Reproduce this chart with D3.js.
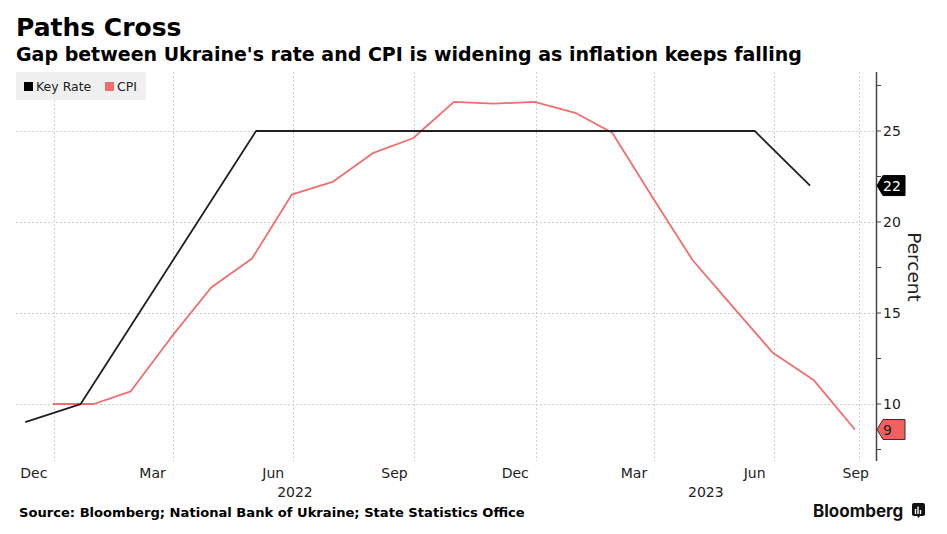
<!DOCTYPE html>
<html>
<head>
<meta charset="utf-8">
<script src="https://cdn.jsdelivr.net/npm/d3@7/dist/d3.min.js"></script>
<style>
  body { margin: 0; background: #fff; }
  svg { display: block; font-family: 'DejaVu Sans', sans-serif; }
</style>
</head>
<body>
<svg id="chart" width="947" height="534"></svg>
<script>
  // ---- Data -----------------------------------------------------------------
  // NBU key rate, at decision dates
  var rateDates  = ['2021-12-10', '2022-01-21', '2022-06-03', '2023-06-16', '2023-07-28'];
  var rateValues = [9, 10, 25, 25, 22];

  // CPI YoY, month-end
  var cpiDates = ['2021-12-31', '2022-01-31', '2022-02-28', '2022-03-31', '2022-04-30',
    '2022-05-31', '2022-06-30', '2022-07-31', '2022-08-31', '2022-09-30', '2022-10-31',
    '2022-11-30', '2022-12-31', '2023-01-31', '2023-02-28', '2023-03-31', '2023-04-30',
    '2023-05-31', '2023-06-30', '2023-07-31', '2023-08-31'];
  var cpiValues = [10.0, 10.0, 10.7, 13.7, 16.4, 18.0, 21.5, 22.2, 23.8, 24.6, 26.6,
    26.5, 26.6, 26.0, 24.9, 21.3, 17.9, 15.3, 12.8, 11.3, 8.6];

  var monthLabels = ['Dec', 'Mar', 'Jun', 'Sep', 'Dec', 'Mar', 'Jun', 'Sep'];
  var monthStarts = ['2021-12-01', '2022-03-01', '2022-06-01', '2022-09-01',
    '2022-12-01', '2023-03-01', '2023-06-01', '2023-09-01'];
  var yearLabels = ['2022', '2023'];
  var gridDates = ['2022-01-01', '2022-04-01', '2022-07-01', '2022-10-01',
    '2023-01-01', '2023-04-01', '2023-07-01', '2023-09-03'];
  var yTicks = [10, 15, 20, 25];
  var yMinorTicks = [7.5, 12.5, 17.5, 22.5, 27.5];

  var RATE_COLOR = '#1f1f1f';
  var CPI_COLOR = '#f26d6d';

  var parse = d3.timeParse('%Y-%m-%d');
  var svg = d3.select('#chart');

  var plot = { left: 16, right: 876, top: 72, bottom: 461 };

  var x = d3.scaleTime()
    .domain([parse('2021-12-03'), parse('2023-09-16')])
    .range([plot.left, plot.right]);
  var y = d3.scaleLinear()
    .domain([6.87, 28.24])
    .range([plot.bottom, plot.top]);

  // ---- Titles ---------------------------------------------------------------
  svg.append('text').attr('x', 16).attr('y', 36)
    .attr('font-size', 25).attr('font-weight', 'bold').attr('fill', '#000')
    .text('Paths Cross');
  svg.append('text').attr('x', 16).attr('y', 61)
    .attr('font-size', 19).attr('font-weight', 'bold').attr('fill', '#000')
    .text("Gap between Ukraine's rate and CPI is widening as inflation keeps falling");

  // ---- Grid -----------------------------------------------------------------
  var grid = svg.append('g').attr('stroke', '#cfcfcf').attr('stroke-dasharray', '2,2')
    .attr('stroke-width', 1);
  grid.selectAll('line.h').data(yTicks).enter().append('line')
    .attr('x1', plot.left).attr('x2', plot.right)
    .attr('y1', function(d) { return Math.round(y(d)) + 0.5; })
    .attr('y2', function(d) { return Math.round(y(d)) + 0.5; });
  grid.selectAll('line.v').data(gridDates).enter().append('line')
    .attr('y1', plot.top).attr('y2', plot.bottom)
    .attr('x1', function(d) { return Math.round(x(parse(d))) + 0.5; })
    .attr('x2', function(d) { return Math.round(x(parse(d))) + 0.5; });

  // ---- Legend ---------------------------------------------------------------
  var legend = svg.append('g');
  legend.append('rect').attr('x', 16).attr('y', 72).attr('width', 130).attr('height', 28)
    .attr('fill', '#f0f0f0');
  legend.append('rect').attr('x', 24).attr('y', 82).attr('width', 9).attr('height', 9)
    .attr('fill', '#000');
  legend.append('text').attr('x', 36).attr('y', 91).attr('font-size', 12.5)
    .attr('fill', '#222').text('Key Rate');
  legend.append('rect').attr('x', 105).attr('y', 82).attr('width', 9).attr('height', 9)
    .attr('fill', CPI_COLOR);
  legend.append('text').attr('x', 117).attr('y', 91).attr('font-size', 12.5)
    .attr('fill', '#222').text('CPI');

  // ---- Lines ----------------------------------------------------------------
  var line = d3.line()
    .x(function(d) { return x(d.date); })
    .y(function(d) { return y(d.value); });

  var rateData = rateDates.map(function(d, i) { return { date: parse(d), value: rateValues[i] }; });
  var cpiData = cpiDates.map(function(d, i) { return { date: parse(d), value: cpiValues[i] }; });

  svg.append('path').datum(cpiData).attr('d', line)
    .attr('fill', 'none').attr('stroke', CPI_COLOR).attr('stroke-width', 1.8)
    .attr('stroke-linejoin', 'round');
  svg.append('path').datum(rateData).attr('d', line)
    .attr('fill', 'none').attr('stroke', RATE_COLOR).attr('stroke-width', 1.8)
    .attr('stroke-linejoin', 'round');

  // ---- Right axis -----------------------------------------------------------
  var axis = svg.append('g');
  axis.append('line').attr('x1', plot.right + 0.5).attr('x2', plot.right + 0.5)
    .attr('y1', plot.top).attr('y2', plot.bottom)
    .attr('stroke', '#444').attr('stroke-width', 1.5);
  axis.selectAll('line.tick').data(yTicks.concat(yMinorTicks)).enter().append('line')
    .attr('x1', plot.right).attr('x2', plot.right + 5)
    .attr('y1', function(d) { return y(d); }).attr('y2', function(d) { return y(d); })
    .attr('stroke', '#444').attr('stroke-width', 1);
  axis.selectAll('text.tick').data(yTicks).enter().append('text')
    .attr('x', plot.right + 7).attr('y', function(d) { return y(d) + 5; })
    .attr('font-size', 14).attr('fill', '#222')
    .text(function(d) { return d; });
  svg.append('text')
    .attr('transform', 'translate(' + 908 + ',' + 267 + ') rotate(90)')
    .attr('text-anchor', 'middle').attr('font-size', 18.5).attr('fill', '#222')
    .text('Percent');

  // ---- Value tags -----------------------------------------------------------
  function tag(value, fill, textFill, stroke) {
    var cy = y(value), x0 = plot.right + 1, h = 20, w = 28, p = 6;
    svg.append('path')
      .attr('d', 'M' + x0 + ',' + cy + 'L' + (x0 + p) + ',' + (cy - h / 2) +
        'H' + (x0 + w) + 'V' + (cy + h / 2) + 'H' + (x0 + p) + 'Z')
      .attr('fill', fill).attr('stroke', stroke).attr('stroke-width', 1);
    svg.append('text').attr('x', x0 + 6).attr('y', cy + 5)
      .attr('font-size', 14).attr('fill', textFill)
      .text(value < 10 ? Math.round(value) : value);
  }
  tag(rateValues[rateValues.length - 1], '#000', '#fff', '#000');
  tag(cpiValues[cpiValues.length - 1], '#f45f5f', '#222', '#333');

  // ---- X axis labels --------------------------------------------------------
  var mLabels = svg.append('g');
  monthStarts.forEach(function(d, i) {
    var start = parse(d);
    var end = d3.timeMonth.offset(start, 1);
    var cx = (x(start) + x(end)) / 2;
    var t = mLabels.append('text').attr('y', 478).attr('font-size', 14)
      .attr('fill', '#222').attr('text-anchor', 'middle').text(monthLabels[i]);
    var w = t.node().getComputedTextLength();
    if (cx + w / 2 > plot.right - 7) cx = plot.right - 7 - w / 2;
    t.attr('x', cx);
  });
  yearLabels.forEach(function(yr) {
    var a = Math.max(x(parse(yr + '-01-01')), plot.left);
    var b = Math.min(x(parse((+yr + 1) + '-01-01')), plot.right);
    svg.append('text').attr('x', (a + b) / 2).attr('y', 497)
      .attr('text-anchor', 'middle').attr('font-size', 14).attr('fill', '#222')
      .text(yr);
  });

  // ---- Footer ---------------------------------------------------------------
  svg.append('text').attr('x', 19).attr('y', 517)
    .attr('font-size', 13.1).attr('font-weight', 'bold').attr('fill', '#000')
    .text('Source: Bloomberg; National Bank of Ukraine; State Statistics Office');
  svg.append('text').attr('x', 813).attr('y', 517)
    .attr('font-family', 'Inter, sans-serif')
    .attr('font-size', 17).attr('font-weight', 'bold').attr('fill', '#111')
    .text('Bloomberg');
  var logo = svg.append('g').attr('transform', 'translate(912,503)');
  logo.append('path').attr('d', 'M0,2 Q0,0 2,0 H11 Q13,0 13,2 V11 Q13,13 11,13 H8 L6.5,15 L5,13 H2 Q0,13 0,11 Z')
    .attr('fill', '#111');
  [[3.5, 6, 5], [6, 3.5, 7.5], [8.5, 7, 4]].forEach(function(b) {
    logo.append('rect').attr('x', b[0] - 0.7).attr('y', b[1]).attr('width', 1.4)
      .attr('height', b[2]).attr('fill', '#fff');
  });
</script>
</body>
</html>
